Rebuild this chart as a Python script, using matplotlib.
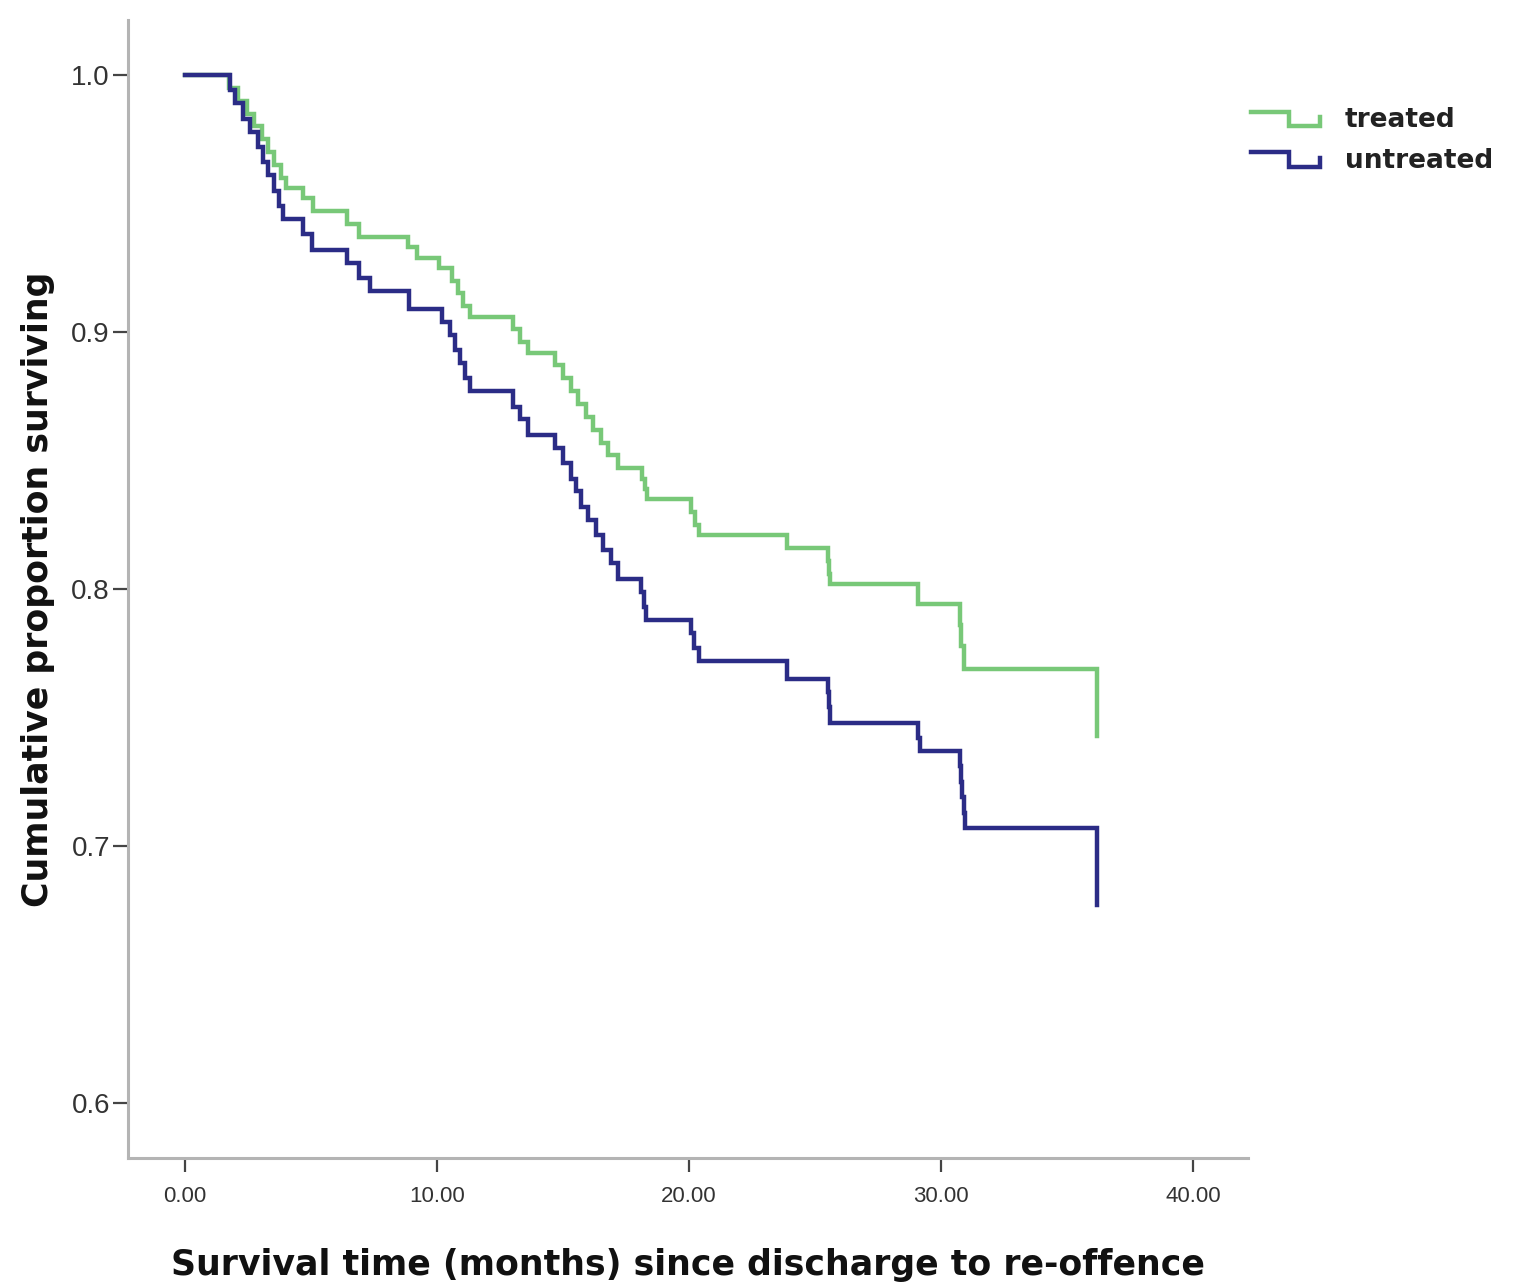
"""Kaplan-Meier style survival curves: treated vs untreated, time to re-offence."""
import numpy as np
import matplotlib
matplotlib.use("Agg")
import matplotlib.pyplot as plt
from matplotlib.lines import Line2D
from matplotlib.legend_handler import HandlerBase

# event times (months) and survival proportion after each drop
treated_t = [1.75, 2.1, 2.45, 2.75, 3.05, 3.3, 3.55, 3.8, 4.0, 4.7, 5.1, 6.45, 6.9,
             8.85, 9.2, 10.1, 10.6, 10.85, 11.05, 11.3, 13.0, 13.3, 13.6,
             14.7, 15.0, 15.3, 15.6, 15.9, 16.2, 16.5, 16.8, 17.2,
             18.15, 18.25, 18.35, 20.1, 20.25, 20.4, 23.9, 25.5, 25.55, 25.6,
             29.1, 30.75, 30.8, 30.9, 36.2]
treated_s = [0.995, 0.990, 0.985, 0.980, 0.975, 0.970, 0.965, 0.960, 0.956, 0.952, 0.947, 0.942, 0.937,
             0.933, 0.929, 0.925, 0.920, 0.915, 0.910, 0.906, 0.901, 0.896, 0.892,
             0.887, 0.882, 0.877, 0.872, 0.867, 0.862, 0.857, 0.852, 0.847,
             0.843, 0.839, 0.835, 0.830, 0.825, 0.821, 0.816, 0.811, 0.806, 0.802,
             0.794, 0.786, 0.778, 0.769, 0.743]

untreated_t = [1.8, 2.0, 2.3, 2.6, 2.9, 3.1, 3.3, 3.55, 3.75, 3.9, 4.7, 5.05, 6.45, 6.9, 7.35,
               8.9, 10.2, 10.5, 10.7, 10.9, 11.1, 11.3, 13.0, 13.3, 13.6,
               14.7, 15.0, 15.3, 15.5, 15.7, 16.0, 16.3, 16.6, 16.9, 17.2,
               18.1, 18.2, 18.3, 20.1, 20.2, 20.4, 23.9, 25.5, 25.55, 25.6,
               29.1, 29.15, 30.75, 30.8, 30.85, 30.9, 30.95, 36.2]
untreated_s = [0.994, 0.989, 0.983, 0.978, 0.972, 0.966, 0.961, 0.955, 0.949, 0.944, 0.938, 0.932, 0.927, 0.921, 0.916,
               0.909, 0.904, 0.899, 0.893, 0.888, 0.882, 0.877, 0.871, 0.866, 0.860,
               0.855, 0.849, 0.843, 0.838, 0.832, 0.827, 0.821, 0.815, 0.810, 0.804,
               0.799, 0.793, 0.788, 0.783, 0.777, 0.772, 0.765, 0.760, 0.754, 0.748,
               0.742, 0.737, 0.731, 0.725, 0.719, 0.713, 0.707, 0.677]

x_ticks = [0, 10, 20, 30, 40]
y_ticks = [0.6, 0.7, 0.8, 0.9, 1.0]

GREEN = '#78c878'
NAVY = '#2b2c86'


class StepHandle(HandlerBase):
    # SPSS-like legend glyph: upper run, drop, lower run, small rise
    def create_artists(self, legend, orig, xd, yd, w, h, fontsize, trans):
        xs = [xd, xd + 0.55*w, xd + 0.55*w, xd + w, xd + w]
        ys = [yd + 0.85*h, yd + 0.85*h, yd + 0.05*h, yd + 0.05*h, yd + 0.55*h]
        ln = Line2D(xs, ys, color=orig.get_color(), lw=orig.get_linewidth(),
                    solid_joinstyle='miter', transform=trans)
        return [ln]


fig = plt.figure(figsize=(15.16, 12.84), dpi=100)
ax = fig.add_axes([0.0844, 0.0981, 0.7388, 0.8863])

l1, = ax.step([0] + treated_t, [1.0] + treated_s, where='post', color=GREEN, lw=3.2,
              label='treated', solid_joinstyle='miter')
l2, = ax.step([0] + untreated_t, [1.0] + untreated_s, where='post', color=NAVY, lw=3.2,
              label='untreated', solid_joinstyle='miter')

ax.set_xlim(-2.26, 42.18)
ax.set_ylim(0.5786, 1.0214)
ax.set_xticks(x_ticks)
ax.set_xticklabels(['%.2f' % v for v in x_ticks], fontfamily='Liberation Sans',
                   fontsize=16, color='#333333')
ax.set_yticks(y_ticks)
ax.set_yticklabels(['%.1f' % v for v in y_ticks], fontfamily='Liberation Sans',
                   fontsize=20, color='#333333')

for s in ['top', 'right']:
    ax.spines[s].set_visible(False)
for s in ['left', 'bottom']:
    ax.spines[s].set_color('#b4b4b4')
    ax.spines[s].set_linewidth(2.2)

ax.tick_params(axis='x', direction='out', length=10, width=1.6, color='#444444', pad=10)
ax.tick_params(axis='y', direction='out', length=11, width=1.6, color='#444444', pad=2)

ax.set_xlabel('Survival time (months) since discharge to re-offence', fontsize=25,
              fontweight='bold', labelpad=30, color='#111111')
ax.set_ylabel('Cumulative proportion surviving', fontsize=25, fontweight='bold',
              labelpad=12, color='#111111')

leg = fig.legend(handles=[l1, l2], loc='upper left', bbox_to_anchor=(0.8095, 0.935),
                 frameon=False, fontsize=19, handlelength=2.6, handletextpad=0.95,
                 labelspacing=0.55, handler_map={Line2D: StepHandle()})
for t in leg.get_texts():
    t.set_fontweight('bold')
    t.set_color('#222222')

fig.savefig('out.png', dpi=100)
plt.close(fig)
